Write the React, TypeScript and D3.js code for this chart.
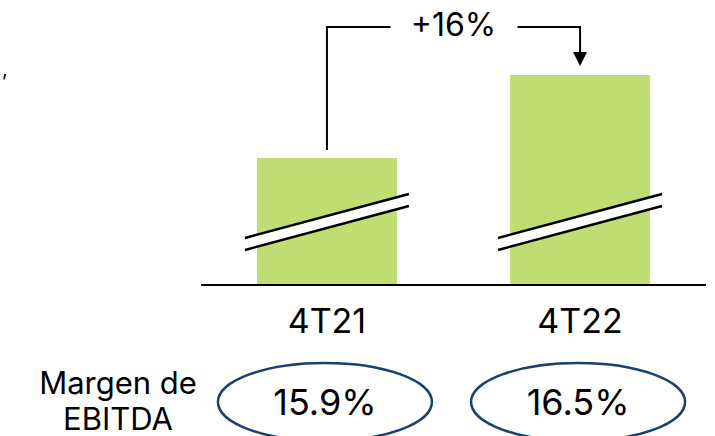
import React from "react";
import * as d3 from "d3";

const categories = ["4T21", "4T22"];
const ebitdaIndex = [100, 116];
const margins = ["15.9%", "16.5%"];
const growthLabel = "+16%";
const marginTitle = ["Margen de", "EBITDA"];

const W = 715;
const H = 436;
const FONT = "Inter, 'Open Sans', sans-serif";
const GREEN = "#BFDD72";
const NAVY = "#1B3F6E";

export default function App() {
  const x = d3
    .scaleBand<string>()
    .domain(categories)
    .range([200, 707])
    .paddingInner(0.447)
    .paddingOuter(0.225);
  // broken axis: domain starts above zero
  const y = d3.scaleLinear().domain([75.5, 116]).range([285, 75]);
  const baseY = 284;
  const bw = x.bandwidth();
  const breakY = 222; // center of break band
  const slope = -0.268;
  const ext = 12;

  const c0 = (x(categories[0]) as number) + bw / 2;
  const c1 = (x(categories[1]) as number) + bw / 2;
  const topY = 27;
  const textX = (c0 + c1) / 2;

  return (
    <svg
      width={W}
      height={H}
      style={{ position: "absolute", left: 0, top: 0 }}
      fontFamily={FONT}
    >
      <rect width={W} height={H} fill="#fff" />
      <text x={2} y={76} fontSize={20} fill="#000">,</text>
      {categories.map((c, i) => {
        const x0 = x(c) as number;
        const yt = y(ebitdaIndex[i]);
        const lx0 = x0 - ext;
        const lx1 = x0 + bw + ext;
        const cx = x0 + bw / 2;
        const yAt = (xx: number, off: number) => breakY + off + (xx - cx) * slope;
        return (
          <g key={c}>
            <rect x={x0} y={yt} width={bw} height={baseY - yt} fill={GREEN} />
            <polygon
              points={`${lx0},${yAt(lx0, -6)} ${lx1},${yAt(lx1, -6)} ${lx1},${yAt(lx1, 6)} ${lx0},${yAt(lx0, 6)}`}
              fill="#fff"
            />
            <line x1={lx0} y1={yAt(lx0, -6)} x2={lx1} y2={yAt(lx1, -6)} stroke="#000" strokeWidth={2.5} />
            <line x1={lx0} y1={yAt(lx0, 6)} x2={lx1} y2={yAt(lx1, 6)} stroke="#000" strokeWidth={2.5} />
            <text x={cx} y={333} textAnchor="middle" fontSize={34} fill="#000">
              {c}
            </text>
            <ellipse cx={cx - 2} cy={402} rx={107} ry={39} fill="none" stroke={NAVY} strokeWidth={2.5} />
            <text x={cx - 2} y={415} textAnchor="middle" fontSize={36} fill="#000">
              {margins[i]}
            </text>
          </g>
        );
      })}
      <line x1={201} x2={706} y1={285} y2={285} stroke="#000" strokeWidth={2} />
      {/* growth arrow */}
      <path
        d={`M${c0},${y(ebitdaIndex[0]) - 8} V${topY} H${textX - 63}`}
        fill="none"
        stroke="#000"
        strokeWidth={2}
      />
      <path
        d={`M${textX + 64},${topY} H${c1} V${52}`}
        fill="none"
        stroke="#000"
        strokeWidth={2}
      />
      <polygon points={`${c1 - 7},52 ${c1 + 7},52 ${c1},66`} fill="#000" />
      <text x={textX} y={36} textAnchor="middle" fontSize={32} fill="#000">
        {growthLabel}
      </text>
      <text x={118} y={394} textAnchor="middle" fontSize={31} fill="#000">
        {marginTitle[0]}
      </text>
      <text x={118} y={430} textAnchor="middle" fontSize={31} fill="#000">
        {marginTitle[1]}
      </text>
    </svg>
  );
}
